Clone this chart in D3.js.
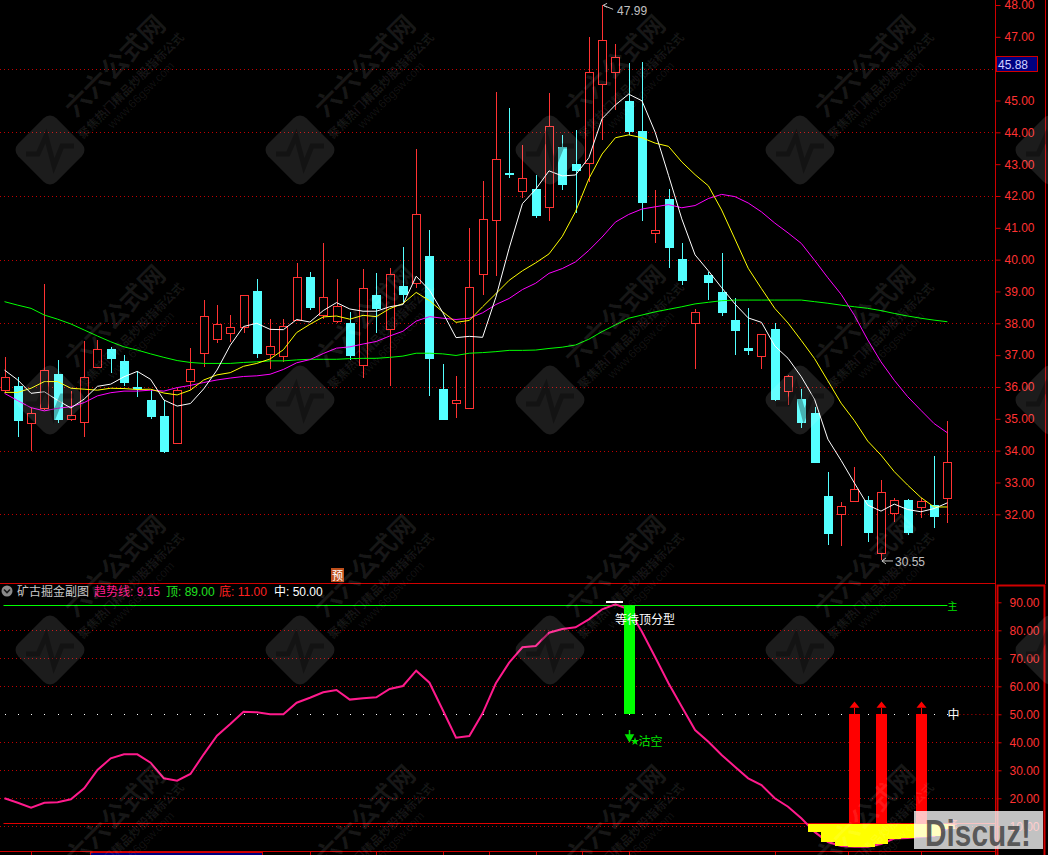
<!DOCTYPE html>
<html>
<head>
<meta charset="utf-8">
<script src="https://cdn.jsdelivr.net/npm/d3@7"></script>
<style>
body { margin: 0; background: #000; }
svg { display: block; font-family: "Liberation Sans", "Noto Sans CJK SC", sans-serif; }
</style>
</head>
<body>
<svg id="chart" width="1048" height="855"></svg>
<script>
// candles
var opens = [35.90,36.03,34.86,35.33,36.41,34.98,34.91,36.62,37.18,36.82,36.01,35.59,35.09,34.25,36.20,37.08,37.50,37.69,37.87,39.01,
  37.03,36.97,38.10,39.46,38.26,38.08,38.00,36.69,38.89,37.81,39.17,39.26,40.11,35.94,35.51,35.35,39.54,41.25,42.73,42.15,
  42.22,41.66,43.55,43.00,43.03,45.51,45.89,44.98,44.04,40.83,41.91,40.02,38.00,39.52,38.99,38.10,37.23,36.98,37.81,35.87,
  35.62,35.17,32.57,32.00,32.43,32.45,30.77,32.03,32.45,32.24,32.29,32.50];
var highs = [36.95,36.30,35.34,39.23,36.85,35.87,37.44,37.48,37.26,37.00,36.51,35.90,35.59,35.96,37.21,38.73,38.57,38.26,38.89,39.38,
  38.13,38.13,39.88,39.61,40.53,39.38,38.36,39.70,39.59,39.73,40.41,43.48,40.93,36.72,36.34,40.98,42.47,45.28,44.77,43.60,
  42.66,45.24,43.92,44.07,46.99,47.99,46.77,46.19,46.22,42.19,42.21,40.53,38.45,39.61,40.20,38.79,38.47,37.66,38.00,36.38,
  35.93,35.36,33.34,32.40,33.48,32.57,33.08,32.51,32.49,32.50,33.84,34.93];
var lows = [35.81,34.44,34.00,35.28,34.88,34.94,34.44,36.59,36.45,36.03,35.67,34.98,33.93,34.25,35.90,36.64,37.39,37.42,37.69,36.90,
  36.55,36.78,38.07,38.42,38.13,38.00,36.85,36.27,37.70,36.03,38.68,39.10,35.72,34.96,35.03,35.35,38.89,39.49,42.57,41.93,
  41.30,41.22,42.19,41.46,42.45,43.76,44.70,43.92,41.22,40.53,39.73,39.20,36.55,38.73,38.23,37.00,37.00,36.55,35.57,35.43,
  34.70,33.60,31.04,31.01,32.43,31.14,30.55,31.77,31.35,31.87,31.56,31.72];
var closes = [36.32,34.94,35.17,36.53,34.96,35.12,36.32,37.18,36.87,36.13,35.93,35.07,33.97,35.90,36.55,38.23,37.98,37.87,38.88,37.04,
  37.30,37.93,39.45,38.49,38.82,38.54,36.97,39.10,38.45,39.55,38.89,41.42,36.87,34.96,35.59,39.13,41.27,43.15,42.67,42.56,
  41.38,44.20,42.35,42.79,45.90,46.90,46.38,44.02,41.77,40.93,40.36,39.34,38.35,39.26,38.31,37.77,37.14,37.66,35.59,36.34,
  34.88,33.60,31.38,32.27,32.78,31.40,32.69,32.45,31.42,32.42,31.90,33.63];

// moving average lines
var ma5 = [36.53,36.22,35.80,35.85,35.58,35.34,35.62,36.02,36.09,36.32,36.49,36.24,35.59,35.40,35.48,35.94,36.53,37.31,37.90,38.00,
  37.81,37.80,38.12,38.04,38.40,38.65,38.45,38.38,38.38,38.52,38.59,39.48,39.04,38.34,37.55,37.59,37.56,38.82,40.36,41.76,
  42.21,42.79,42.63,42.66,43.20,44.43,44.86,45.20,44.99,44.00,42.65,41.28,40.15,39.65,39.12,38.61,38.17,38.03,37.29,36.90,
  36.32,35.61,34.36,33.69,32.98,32.29,32.10,32.32,32.15,32.08,32.18,32.36];
var ma10 = [35.83,35.83,35.96,36.17,36.17,35.96,35.93,35.90,35.96,35.95,35.92,35.93,35.81,35.75,35.90,36.22,36.38,36.45,36.65,36.74,
  36.88,37.17,37.71,37.97,38.20,38.23,38.13,38.25,38.21,38.46,38.62,38.97,38.71,38.36,38.03,38.09,38.52,38.93,39.35,39.65,
  39.90,40.18,40.73,41.51,42.54,43.32,43.83,43.92,43.83,43.66,43.56,43.07,42.67,42.32,41.56,40.65,39.73,39.09,38.47,38.01,
  37.46,36.89,36.19,35.49,34.94,34.30,33.86,33.34,32.92,32.53,32.23,32.23];
var ma20 = [35.80,35.57,35.35,35.25,35.33,35.38,35.51,35.72,35.82,35.87,35.87,35.90,35.87,35.98,36.05,36.14,36.22,36.28,36.33,36.35,
  36.40,36.55,36.76,36.86,37.05,37.22,37.26,37.35,37.43,37.60,37.75,38.07,38.21,38.16,38.12,38.16,38.33,38.59,38.78,39.06,
  39.26,39.57,39.72,39.93,40.29,40.71,41.18,41.42,41.59,41.66,41.73,41.63,41.70,41.92,42.05,41.98,41.78,41.50,41.15,40.84,
  40.51,39.98,39.43,38.91,38.25,37.48,36.79,36.21,35.70,35.27,34.85,34.56];
var ma60 = [38.68,38.57,38.47,38.26,38.13,37.98,37.79,37.60,37.42,37.26,37.16,37.04,36.93,36.83,36.77,36.74,36.74,36.74,36.77,36.79,
  36.82,36.82,36.85,36.87,36.87,36.87,36.89,36.90,36.90,36.93,36.97,37.06,37.06,37.04,36.99,37.06,37.08,37.11,37.15,37.15,
  37.16,37.21,37.25,37.32,37.50,37.74,37.95,38.16,38.26,38.36,38.44,38.52,38.61,38.66,38.71,38.73,38.73,38.73,38.73,38.73,
  38.73,38.68,38.63,38.57,38.52,38.47,38.40,38.31,38.23,38.16,38.10,38.05];

// indicator panel
var trend = [20.00,18.43,16.64,18.43,18.57,19.64,23.57,30.11,34.29,35.71,35.71,32.71,27.14,26.29,28.68,35.71,42.36,46.54,50.93,50.71,
  50.00,50.00,54.14,55.93,57.86,58.68,55.25,55.71,56.07,59.04,60.11,65.57,61.29,51.54,41.64,42.25,50.36,61.07,68.43,73.93,
  74.39,79.14,80.46,81.07,83.93,87.50,89.29,87.50,79.50,70.36,61.07,52.71,44.39,40.21,35.46,31.29,27.14,24.75,20.00,17.00,
  12.86,8.00,4.40,2.96,2.70,2.70,3.68,5.64,5.82,6.29,6.54,9.15];
var topLevel = 89, bottomLevel = 11, midLevel = 50;
var buySignals = [64, 66, 69];
var sellSignal = 47;

var priceTicks = [48,47,45,44,43,42,41,40,39,38,37,36,35,34,33,32];
var priceGrid = [46,44,42,40,38,36,34,32];
var indTicks = [90,80,70,60,50,40,30,20,10];
var indGrid = [80,70,60,40,30,20,10];
var timeTicks = [2, 23, 28, 33, 36.5, 40, 43.5, 47, 58, 63.5, 69];
var lastPrice = 45.88;

var W = 1048, H = 855;
var svg = d3.select("#chart");
svg.append("rect").attr("width", W).attr("height", H).attr("fill", "#000");

var idx = d3.range(closes.length);
var xScale = d3.scaleLinear().domain([0, 71]).range([4.5, 947.4]);
var yPrice = d3.scaleLinear().domain([32, 48]).range([514.3, 5]);
var yInd = d3.scaleLinear().domain([10, 90]).range([826.3, 602.3]);
var step = xScale(1) - xScale(0);
function px(i) { return Math.round(xScale(i)); }
function crisp(v) { return Math.round(v) + 0.5; }

var RED = "#ff3232", CYAN = "#54ffff", AXIS = "#d00000", GRID = "#c00000";

// price grid
svg.append("g").selectAll("line").data(priceGrid).enter().append("line")
  .attr("x1", 0).attr("x2", 995)
  .attr("y1", function(d) { return crisp(yPrice(d)); })
  .attr("y2", function(d) { return crisp(yPrice(d)); })
  .attr("stroke", GRID).attr("stroke-dasharray", "1,3");

// candles
var cg = svg.append("g").attr("shape-rendering", "crispEdges");
idx.forEach(function(i) {
  var up = closes[i] >= opens[i];
  var col = up ? RED : CYAN;
  var cx = px(i) + 0.5;
  var top = Math.round(yPrice(Math.max(opens[i], closes[i])));
  var bot = Math.round(yPrice(Math.min(opens[i], closes[i])));
  cg.append("line").attr("x1", cx).attr("x2", cx)
    .attr("y1", yPrice(highs[i])).attr("y2", yPrice(lows[i]))
    .attr("stroke", col);
  if (up) {
    cg.append("rect").attr("x", cx - 4).attr("y", top + 0.5)
      .attr("width", 8).attr("height", Math.max(1, bot - top))
      .attr("fill", "#000").attr("stroke", col);
  } else {
    cg.append("rect").attr("x", cx - 4.5).attr("y", top)
      .attr("width", 9).attr("height", Math.max(1, bot - top))
      .attr("fill", col);
  }
});

// moving averages
var lines = [[ma60, "#00ff00"], [ma20, "#ff00ff"], [ma10, "#ffff00"], [ma5, "#ffffff"]];
lines.forEach(function(l) {
  var series = l[0];
  var gen = d3.line().x(function(i) { return xScale(i); }).y(function(i) { return yPrice(series[i]); });
  svg.append("path").datum(idx).attr("d", gen)
    .attr("fill", "none").attr("stroke", l[1]).attr("stroke-width", 1);
});

// high / low marks
var hiI = d3.maxIndex(highs), loI = d3.minIndex(lows);
var hx = xScale(hiI) + 1, hy = yPrice(highs[hiI]);
svg.append("path")
  .attr("d", "M" + hx + "," + hy + "l4,-2M" + hx + "," + hy + "l4,2M" + hx + "," + hy + "l10,4")
  .attr("stroke", "#c0c0c0").attr("fill", "none");
svg.append("text").attr("x", hx + 14).attr("y", hy + 10).attr("fill", "#c0c0c0")
  .attr("font-size", 12).text(highs[hiI].toFixed(2));
var lx = xScale(loI) + 1, ly = yPrice(lows[loI]) + 0.5;
svg.append("path")
  .attr("d", "M" + lx + "," + ly + "l4,-3M" + lx + "," + ly + "l4,3M" + lx + "," + ly + "h11")
  .attr("stroke", "#c0c0c0").attr("fill", "none");
svg.append("text").attr("x", lx + 13).attr("y", ly + 5).attr("fill", "#c0c0c0")
  .attr("font-size", 12).text(lows[loI].toFixed(2));

// "预" marker
var yuX = xScale(25);
svg.append("rect").attr("x", Math.round(yuX) - 6).attr("y", 568).attr("width", 13).attr("height", 14).attr("fill", "#c0501c");
svg.append("text").attr("x", Math.round(yuX) + 0.5).attr("y", 579.5).attr("text-anchor", "middle")
  .attr("fill", "#fff").attr("font-size", 11).text("预");

// price axis
svg.append("line").attr("x1", 995.5).attr("x2", 995.5).attr("y1", 0).attr("y2", H).attr("stroke", AXIS);
svg.append("line").attr("x1", 1045.5).attr("x2", 1045.5).attr("y1", 0).attr("y2", 584).attr("stroke", AXIS);
var axP = svg.append("g").attr("transform", "translate(995.5,0)")
  .call(d3.axisRight(yPrice).tickValues(priceTicks).tickFormat(d3.format(".2f")).tickSize(5).tickPadding(4));
axP.select(".domain").remove();
axP.attr("font-size", 12).attr("font-family", "Liberation Sans, sans-serif");
axP.selectAll("line").attr("stroke", AXIS);
axP.selectAll("text").attr("fill", RED);

var by = yPrice(lastPrice);
svg.append("rect").attr("x", 996.5).attr("y", Math.round(by) - 15.5).attr("width", 41).attr("height", 15)
  .attr("fill", "#000080").attr("stroke", AXIS);
svg.append("text").attr("x", 998).attr("y", Math.round(by) - 3.5).attr("fill", "#d0d0ff")
  .attr("font-size", 12).text(lastPrice.toFixed(2));

// ---------- indicator panel ----------
svg.append("line").attr("x1", 0).attr("x2", 995).attr("y1", 583.5).attr("y2", 583.5).attr("stroke", AXIS);

// header
var hdr = svg.append("g").attr("font-size", 12);
hdr.append("circle").attr("cx", 7).attr("cy", 591).attr("r", 5.5).attr("fill", "#8a8a8a");
hdr.append("path").attr("d", "M4,589.5 L7,592.5 L10,589.5").attr("stroke", "#1a1a1a").attr("stroke-width", 1.6).attr("fill", "none");
hdr.append("text").attr("x", 17).attr("y", 596).attr("fill", "#c8c8c8").text("矿古掘金副图");
hdr.append("text").attr("x", 94).attr("y", 596).attr("fill", "#ff1a8c").text("趋势线: " + trend[trend.length - 1].toFixed(2));
hdr.append("text").attr("x", 166).attr("y", 596).attr("fill", "#20e020").text("顶: " + topLevel.toFixed(2));
hdr.append("text").attr("x", 219).attr("y", 596).attr("fill", "#ff2020").text("底: " + bottomLevel.toFixed(2));
hdr.append("text").attr("x", 274).attr("y", 596).attr("fill", "#ffffff").text("中: " + midLevel.toFixed(2));

// grid
svg.append("g").selectAll("line").data(indGrid).enter().append("line")
  .attr("x1", 0).attr("x2", 995)
  .attr("y1", function(d) { return crisp(yInd(d)); })
  .attr("y2", function(d) { return crisp(yInd(d)); })
  .attr("stroke", GRID).attr("stroke-dasharray", "1,3");
svg.append("line").attr("x1", xScale(71) + 12).attr("x2", 995)
  .attr("y1", crisp(yInd(midLevel))).attr("y2", crisp(yInd(midLevel)))
  .attr("stroke", GRID).attr("stroke-dasharray", "1,3");

// top / bottom / middle levels
svg.append("line").attr("x1", xScale(0) - 1).attr("x2", xScale(71))
  .attr("y1", crisp(yInd(topLevel))).attr("y2", crisp(yInd(topLevel))).attr("stroke", "#00ff00");
svg.append("line").attr("x1", xScale(0) - 1).attr("x2", 995)
  .attr("y1", crisp(yInd(bottomLevel))).attr("y2", crisp(yInd(bottomLevel))).attr("stroke", "#e00000");
svg.append("g").selectAll("rect").data(idx).enter().append("rect")
  .attr("x", function(i) { return px(i); }).attr("y", Math.round(yInd(midLevel)))
  .attr("width", 1).attr("height", 1).attr("fill", "#fff");

// trend line
svg.append("path").datum(idx)
  .attr("d", d3.line().x(function(i) { return xScale(i); }).y(function(i) { return yInd(trend[i]); }))
  .attr("fill", "none").attr("stroke", "#ff1a8c").attr("stroke-width", 2);

// yellow area below bottom level
svg.append("g").attr("shape-rendering", "crispEdges").selectAll("rect")
  .data(idx.filter(function(i) { return trend[i] < bottomLevel; })).enter().append("rect")
  .attr("x", function(i) { return xScale(i) - step / 2; })
  .attr("y", yInd(bottomLevel))
  .attr("width", step + 0.5)
  .attr("height", function(i) { return yInd(trend[i]) - yInd(bottomLevel); })
  .attr("fill", "#ffff00");

// buy signal bars + arrows
var sg = svg.append("g").attr("shape-rendering", "crispEdges");
buySignals.forEach(function(i) {
  var cx = px(i);
  sg.append("rect").attr("x", cx - 5).attr("y", yInd(midLevel)).attr("width", 11)
    .attr("height", yInd(bottomLevel) - yInd(midLevel)).attr("fill", "#ff0000");
  sg.append("line").attr("x1", cx + 0.5).attr("x2", cx + 0.5)
    .attr("y1", yInd(midLevel)).attr("y2", yInd(52.4)).attr("stroke", "#ff0000");
});
buySignals.forEach(function(i) {
  var cx = px(i) + 0.5, ty = yInd(54.6), by2 = yInd(52.3);
  svg.append("path").attr("d", "M" + cx + "," + ty + "L" + (cx + 5) + "," + by2 + "L" + (cx - 5) + "," + by2 + "Z")
    .attr("fill", "#ff0000");
});

// sell signal bar
var sx = px(sellSignal);
sg.append("rect").attr("x", sx - 5).attr("y", yInd(topLevel)).attr("width", 11)
  .attr("height", yInd(midLevel) - yInd(topLevel)).attr("fill", "#00ff00");
sg.append("rect").attr("x", px(sellSignal - 1) - 9).attr("y", yInd(90.3)).attr("width", 17).attr("height", 2)
  .attr("fill", "#ffffff");
svg.append("text").attr("x", sx - 14).attr("y", yInd(82.4)).attr("fill", "#ffffff")
  .attr("font-size", 12).text("等待顶分型");
svg.append("path")
  .attr("d", "M" + (sx + 0.5) + "," + yInd(44.4) + "V" + yInd(42.2) +
    "M" + (sx - 3) + "," + yInd(42.6) + "L" + (sx + 4) + "," + yInd(42.6) + "L" + (sx + 0.5) + "," + yInd(40.4) + "Z")
  .attr("stroke", "#00e000").attr("stroke-width", 1.5).attr("fill", "#00e000");
svg.append("path").attr("d", d3.symbol().type(d3.symbolStar).size(22))
  .attr("transform", "translate(" + (sx + 6) + "," + yInd(40.3) + ")").attr("fill", "#00e000");
svg.append("text").attr("x", sx + 9.5).attr("y", yInd(38.7)).attr("fill", "#00e000")
  .attr("font-size", 12).text("沽空");

// end labels
svg.append("text").attr("x", xScale(71)).attr("y", yInd(topLevel) + 5).attr("fill", "#00e000")
  .attr("font-size", 10).text("主");
svg.append("text").attr("x", xScale(71)).attr("y", yInd(midLevel) + 4.5).attr("fill", "#ffffff")
  .attr("font-size", 12).text("中");
svg.append("text").attr("x", xScale(71)).attr("y", yInd(bottomLevel) + 4).attr("fill", "#ff4040")
  .attr("font-size", 10).text("底");

// indicator axis
svg.append("rect").attr("x", 997.5).attr("y", 585.5).attr("width", 47).attr("height", 280)
  .attr("fill", "none").attr("stroke", AXIS).attr("stroke-width", 2);
var axI = svg.append("g").attr("transform", "translate(996.5,0)")
  .call(d3.axisRight(yInd).tickValues(indTicks).tickFormat(d3.format(".2f")).tickSize(5).tickPadding(8));
axI.select(".domain").remove();
axI.attr("font-size", 12).attr("font-family", "Liberation Sans, sans-serif");
axI.selectAll("line").attr("stroke", AXIS);
axI.selectAll("text").attr("fill", RED);

// time axis strip at the bottom
svg.append("line").attr("x1", 0).attr("x2", 995).attr("y1", 851.5).attr("y2", 851.5).attr("stroke", AXIS);
svg.append("g").selectAll("line").data(timeTicks).enter().append("line")
  .attr("x1", function(d) { return crisp(xScale(d)); }).attr("x2", function(d) { return crisp(xScale(d)); })
  .attr("y1", 851).attr("y2", 855).attr("stroke", AXIS);
svg.append("rect").attr("x", 90.5).attr("y", 852.5).attr("width", 172).attr("height", 6)
  .attr("fill", "#000080").attr("stroke", AXIS);

// watermarks
var wm = svg.append("g").attr("pointer-events", "none");
[50, 300, 550, 800, 1050].forEach(function(cx) {
  [150, 400, 650, 900].forEach(function(cy) {
    var g = wm.append("g").attr("transform", "translate(" + cx + "," + cy + ")");
    g.append("rect").attr("x", -27).attr("y", -27).attr("width", 54).attr("height", 54).attr("rx", 9)
      .attr("transform", "rotate(45)").attr("fill", "rgba(255,255,255,0.11)");
    g.append("path").attr("d", "M-24,4 L-12,4 L-4,-14 L4,16 L12,-4 L24,-4")
      .attr("fill", "none").attr("stroke", "rgba(0,0,0,0.3)").attr("stroke-width", 5);
    g.append("text").attr("transform", "translate(65,-84) rotate(-45)").attr("text-anchor", "middle")
      .attr("dominant-baseline", "central").attr("font-size", 26).attr("font-weight", "bold")
      .attr("fill", "rgba(255,255,255,0.09)").text("六六公式网");
    g.append("text").attr("transform", "translate(81,-64) rotate(-45)").attr("text-anchor", "middle")
      .attr("dominant-baseline", "central").attr("font-size", 12).attr("font-weight", "bold")
      .attr("fill", "rgba(255,255,255,0.09)").text("聚焦热门精品炒股指标公式");
    g.append("text").attr("transform", "translate(91,-55) rotate(-45)").attr("text-anchor", "middle")
      .attr("dominant-baseline", "central").attr("font-size", 12)
      .attr("fill", "rgba(255,255,255,0.08)").text("www.66gsw.com");
  });
});

// forum stamp
svg.append("rect").attr("x", 914).attr("y", 811).attr("width", 129).attr("height", 38)
  .attr("fill", "rgba(255,255,255,0.76)");
svg.append("text").attr("x", 925).attr("y", 846).attr("font-size", 36).attr("font-weight", "bold")
  .attr("textLength", 106).attr("lengthAdjust", "spacingAndGlyphs")
  .attr("fill", "rgba(70,70,70,0.85)").text("Discuz!");
</script>
</body>
</html>
